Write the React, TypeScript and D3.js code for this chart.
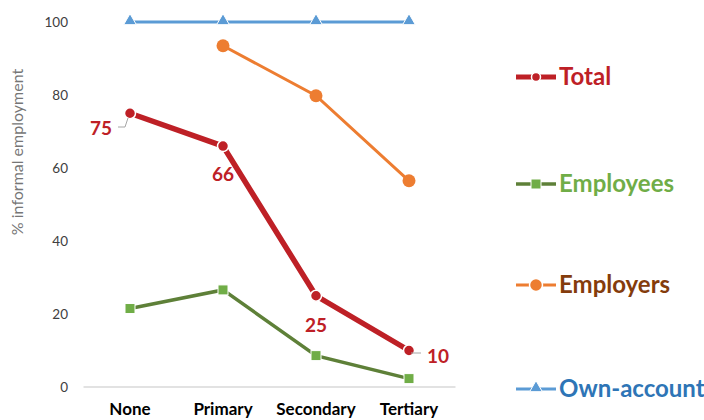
import React from "react";
import * as d3 from "d3";

const categories = ["None", "Primary", "Secondary", "Tertiary"];
const total = [75, 66, 25, 10];
const employees = [21.5, 26.6, 8.6, 2.3];
const employers: (number | null)[] = [null, 93.5, 79.8, 56.5];
const ownAccount = [100, 100, 100, 100];
const yTicks = [0, 20, 40, 60, 80, 100];

const FONT = "Lato, 'Open Sans', sans-serif";

const App: React.FC = () => {
  const width = 704;
  const height = 420;
  const plot = { left: 83.5, right: 455.5, top: 22, bottom: 387 };

  const x = d3
    .scaleBand<string>()
    .domain(categories)
    .range([plot.left, plot.right]);
  const cx = (c: string) => (x(c) ?? 0) + x.bandwidth() / 2;

  const y = d3.scaleLinear().domain([0, 100]).range([plot.bottom, plot.top]);

  const line = d3
    .line<number | null>()
    .defined(d => d !== null)
    .x((_, i) => cx(categories[i]))
    .y(d => y(d as number));

  const tri = d3.symbol(d3.symbolTriangle, 70)();

  // data label offsets for the Total series
  const labelPos = [
    { dx: -29, dy: 22, leader: "M118,127 L125,127 L128,118" },
    { dx: 0, dy: 35, leader: null },
    { dx: 0, dy: 36, leader: null },
    { dx: 29, dy: 12, leader: "M411,353 L421,353" },
  ];

  const legend = [
    { name: "Total", y: 77, line: "#be2026", text: "#be2026", w: 5, kind: "circle", r: 4.5 },
    { name: "Employees", y: 184, line: "#5e8038", text: "#70ad47", w: 3.5, kind: "square", r: 4.5 },
    { name: "Employers", y: 285, line: "#ed7d31", text: "#843c0c", w: 3, kind: "circle", r: 6.5 },
    { name: "Own-account", y: 389, line: "#5b9bd5", text: "#2e75b6", w: 3, kind: "tri", r: 0 },
  ];

  return (
    <svg width={width} height={height} style={{ position: "absolute", left: 0, top: 0 }}>
      <rect width={width} height={height} fill="#fff" />
      {/* y axis tick labels */}
      {yTicks.map(t => (
        <text
          key={t}
          x={68}
          y={y(t) + 5}
          textAnchor="end"
          fontFamily={FONT}
          fontSize={13.5}
          fill="#404040"
        >
          {t}
        </text>
      ))}
      <text
        transform={`translate(23,${152}) rotate(-90)`}
        textAnchor="middle"
        fontFamily={FONT}
        fontSize={16}
        fill="#767676"
      >
        % informal employment
      </text>
      <line x1={plot.left} x2={plot.right} y1={plot.bottom} y2={plot.bottom} stroke="#d9d9d9" strokeWidth={1.5} />
      {categories.map(c => (
        <text
          key={c}
          x={cx(c)}
          y={415}
          textAnchor="middle"
          fontFamily={FONT}
          fontWeight="bold"
          fontSize={17}
          fill="#000"
        >
          {c}
        </text>
      ))}

      {/* Own-account */}
      <path d={line(ownAccount) ?? ""} fill="none" stroke="#5b9bd5" strokeWidth={3} />
      {ownAccount.map((v, i) => (
        <path key={i} d={tri ?? ""} transform={`translate(${cx(categories[i])},${y(v) - 1})`} fill="#5b9bd5" stroke="#fff" strokeWidth={1} />
      ))}

      {/* Employers */}
      <path d={line(employers) ?? ""} fill="none" stroke="#ed7d31" strokeWidth={3} />
      {employers.map((v, i) =>
        v === null ? null : (
          <circle key={i} cx={cx(categories[i])} cy={y(v)} r={6.5} fill="#ed7d31" />
        )
      )}

      {/* Employees */}
      <path d={line(employees) ?? ""} fill="none" stroke="#5e8038" strokeWidth={3.5} />
      {employees.map((v, i) => (
        <rect key={i} x={cx(categories[i]) - 5} y={y(v) - 5} width={10} height={10} fill="#70ad47" stroke="#fff" strokeWidth={1} />
      ))}

      {/* Total */}
      <path d={line(total) ?? ""} fill="none" stroke="#be2026" strokeWidth={5.5} />
      {total.map((v, i) => (
        <circle key={i} cx={cx(categories[i])} cy={y(v)} r={5.5} fill="#be2026" stroke="#fff" strokeWidth={1.5} />
      ))}
      {total.map((v, i) => (
        <g key={"l" + i}>
          {labelPos[i].leader && (
            <path d={labelPos[i].leader as string} fill="none" stroke="#a6a6a6" strokeWidth={1} />
          )}
          <text
            x={cx(categories[i]) + labelPos[i].dx}
            y={y(v) + labelPos[i].dy}
            textAnchor="middle"
            fontFamily={FONT}
            fontWeight="bold"
            fontSize={19}
            fill="#be2026"
          >
            {v}
          </text>
        </g>
      ))}

      {/* legend */}
      {legend.map(l => (
        <g key={l.name} transform={`translate(0,${l.y})`}>
          <line x1={516} x2={556} y1={0} y2={0} stroke={l.line} strokeWidth={l.w} />
          {l.kind === "circle" && <circle cx={536} cy={0} r={l.r} fill={l.line} stroke="#fff" strokeWidth={1.5} />}
          {l.kind === "square" && <rect x={531} y={-5} width={10} height={10} fill="#70ad47" stroke="#fff" strokeWidth={1} />}
          {l.kind === "tri" && <path d={tri ?? ""} transform="translate(536,-1)" fill={l.line} stroke="#fff" strokeWidth={1} />}
          <text x={559} y={8} fontFamily={FONT} fontWeight="bold" fontSize={24} fill={l.text}>
            {l.name}
          </text>
        </g>
      ))}
    </svg>
  );
};

export default App;
